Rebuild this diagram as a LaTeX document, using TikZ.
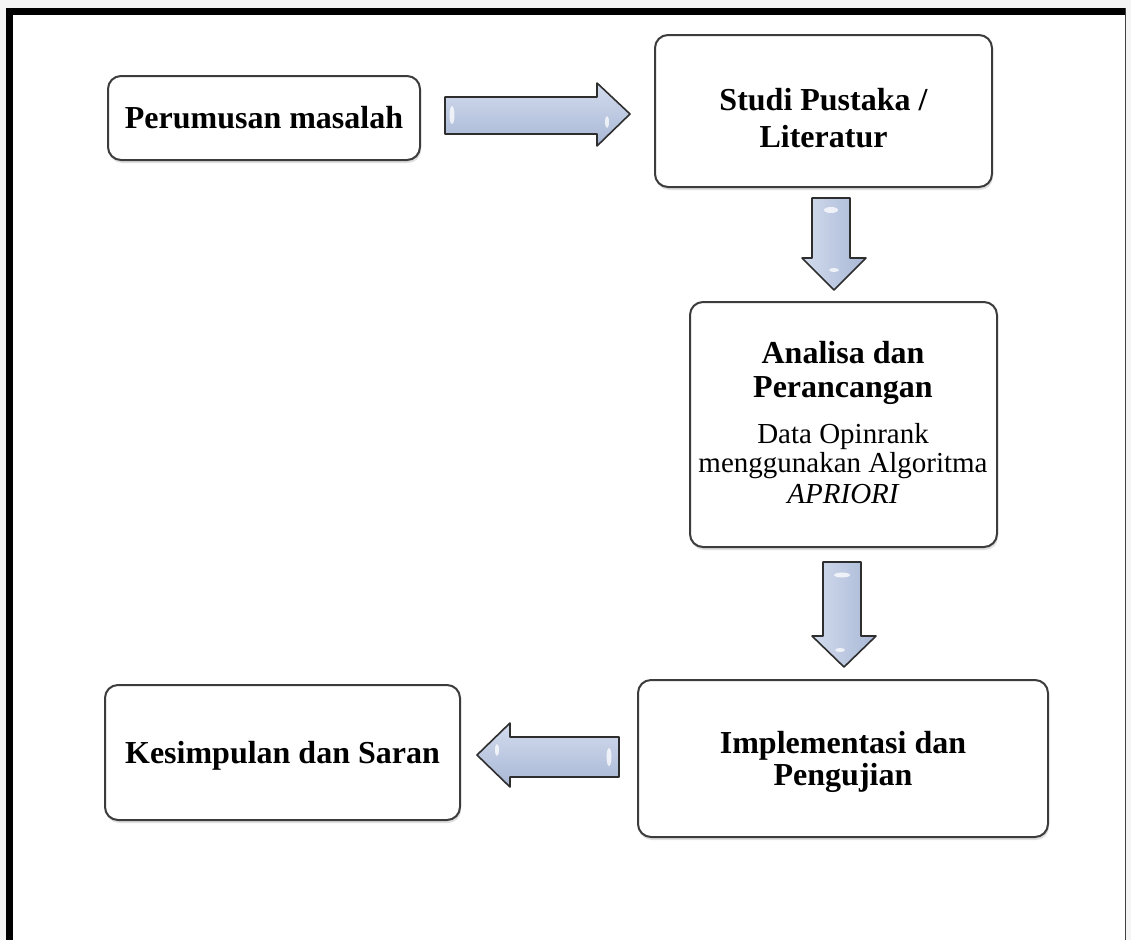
\documentclass[tikz,border=0pt]{standalone}
\usepackage{fontspec}
\setmainfont{Liberation Serif}
\usetikzlibrary{shadows}
\definecolor{boxline}{HTML}{3C3C3C}
\definecolor{arrline}{HTML}{2E2E2E}
\definecolor{arrtop}{HTML}{D3DCEE}
\definecolor{arrbot}{HTML}{A8B7D5}
\definecolor{bggray}{HTML}{F4F4F4}
\begin{document}
\begin{tikzpicture}[x=1pt,y=-1pt,
  box/.style={draw=boxline, line width=2pt, rounded corners=13pt, fill=white,
    drop shadow={opacity=0.25, shadow xshift=1pt, shadow yshift=-3pt}},
  bt/.style={font=\fontsize{32}{34}\selectfont\bfseries, anchor=base, inner sep=0pt},
  rt/.style={font=\fontsize{29}{30}\selectfont, anchor=base, inner sep=0pt},
  harrow/.style={draw=arrline, line width=1.6pt, line join=round, top color=arrtop, bottom color=arrbot},
  varrow/.style={draw=arrline, line width=1.6pt, line join=round, left color=arrtop, right color=arrbot},
  glint/.style={fill=white, opacity=0.75}]
\useasboundingbox (0,0) rectangle (1131,940);
% background and frame
\fill[white] (0,0) rectangle (1131,940);
\fill[bggray] (0,0) rectangle (1131,8);
\fill[bggray] (0,0) rectangle (6,940);
\fill[bggray] (1126,0) rectangle (1131,940);
\fill[black] (6,8) rectangle (1125,15);
\fill[black] (6,8) rectangle (13,940);
\draw[line width=1pt, black!75] (1125.5,8) -- (1125.5,940);

% boxes
\node[box, minimum width=312pt, minimum height=84pt] (p1) at (264,118) {};
\node[box, minimum width=337pt, minimum height=152pt] (p2) at (823.5,111) {};
\node[box, minimum width=307pt, minimum height=245pt] (p3) at (843.5,424.5) {};
\node[box, minimum width=410pt, minimum height=157pt] (p4) at (843,758.5) {};
\node[box, minimum width=355pt, minimum height=135pt] (p5) at (282.5,752.5) {};

% texts
\node[bt] (t1) at (264,128) {Perumusan masalah};
\node[bt] (t2a) at (823.5,110) {Studi Pustaka /};
\node[bt] (t2b) at (823.5,147) {Literatur};
\node[bt] (t3a) at (843,363) {Analisa dan};
\node[bt] (t3b) at (843,397) {Perancangan};
\node[rt] (t3c) at (843,443) {Data Opinrank};
\node[rt] (t3d) at (843,472) {menggunakan Algoritma};
\node[rt] (t3e) at (843,503) {\itshape APRIORI};
\node[bt] (t4a) at (843,753) {Implementasi dan};
\node[bt] (t4b) at (843,785) {Pengujian};
\node[bt] (t5) at (282.5,763) {Kesimpulan dan Saran};

% block arrows
\path[harrow] (445,97) -- (597,97) -- (597,83) -- (630,114) -- (597,146) -- (597,134) -- (445,134) -- cycle;
\fill[glint] (452,115) ellipse (2.5pt and 9pt);
\fill[glint] (607,122) ellipse (2pt and 6pt);

\path[varrow] (812,198) -- (850,198) -- (850,258) -- (866,258) -- (834,290) -- (802,258) -- (812,258) -- cycle;
\fill[glint] (831,210) ellipse (7pt and 3pt);
\fill[glint] (834,270) ellipse (5pt and 2pt);

\path[varrow] (823,562) -- (861,562) -- (861,636) -- (876,636) -- (844,667) -- (812,636) -- (823,636) -- cycle;
\fill[glint] (842,575) ellipse (8pt and 2.5pt);
\fill[glint] (840,650) ellipse (5pt and 2pt);

\path[harrow] (619,737) -- (510,737) -- (510,723) -- (477,755) -- (510,787) -- (510,777) -- (619,777) -- cycle;
\fill[glint] (497,750) ellipse (2pt and 6pt);
\fill[glint] (609,757) ellipse (2.5pt and 9pt);
\end{tikzpicture}
\end{document}
